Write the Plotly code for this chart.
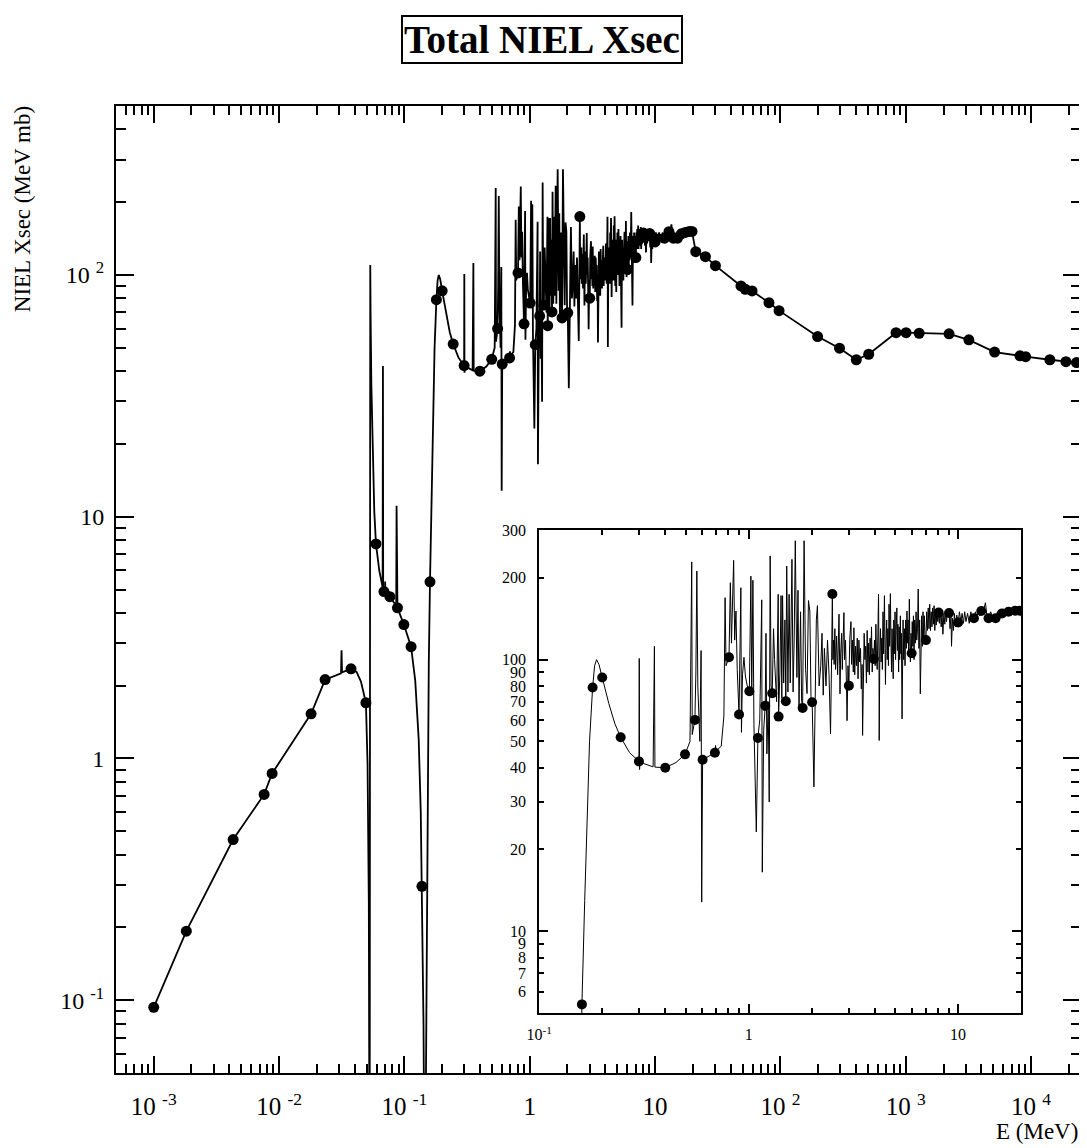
import plotly.graph_objects as go

# ---------------- data ----------------
# low-energy part (markers joined, deep dips below the axis floor)
E_low = [
    1.0e-3, 1.82e-3, 4.3e-3, 7.6e-3, 8.8e-3, 0.018, 0.0233, 0.0312, 0.0315, 0.0318,
    0.0375, 0.0415, 0.0450, 0.0493, 0.0508, 0.0520, 0.0528, 0.0534, 0.0537, 0.0545,
    0.0560, 0.0575, 0.0593, 0.0630, 0.0670, 0.0674, 0.0677, 0.0687, 0.0700, 0.0702,
    0.0705, 0.0766, 0.0860, 0.0866, 0.0870, 0.0880, 0.099, 0.113, 0.122, 0.130,
    0.135, 0.138, 0.142, 0.1455, 0.1490, 0.1525, 0.1565, 0.160, 0.165, 0.169,
    0.174, 0.180, 0.184, 0.188, 0.193, 0.200, 0.215, 0.230, 0.245, 0.270,
]
v_low = [
    0.0935, 0.193, 0.462, 0.71, 0.867, 1.53, 2.12, 2.25, 2.80, 2.27,
    2.35, 2.28, 2.08, 1.70, 0.95, 0.25, 0.01, 110, 70, 35,
    16, 10.5, 7.72, 6.0, 5.1, 42, 5.0, 4.9, 4.85, 5.4,
    4.8, 4.67, 4.28, 11.1, 4.24, 4.2, 3.58, 2.9, 2.1, 1.2,
    0.6, 0.296, 0.08, 0.01, 0.06, 0.6, 2.5, 5.38, 13, 25.6,
    50, 79, 95, 100, 96, 86, 69, 58, 51.8, 45.5,
]

# resonance region 0.3 - 2.5 MeV
E_res = [
    0.2995, 0.3005, 0.3015, 0.303, 0.350, 0.355, 0.357, 0.400, 0.450, 0.497,
    0.525, 0.535, 0.538, 0.554, 0.560, 0.566, 0.572, 0.585, 0.593, 0.597,
    0.603, 0.640, 0.690, 0.695, 0.700, 0.740, 0.762, 0.772, 0.780, 0.806,
    0.818, 0.828, 0.848, 0.858, 0.870, 0.882, 0.900, 0.918, 0.924, 0.935,
    0.950, 0.965, 0.985, 1.008, 1.025, 1.035, 1.048, 1.060, 1.088, 1.107,
    1.130, 1.155, 1.162, 1.180, 1.200, 1.210, 1.222, 1.240, 1.254, 1.267,
    1.280, 1.296, 1.315, 1.330, 1.360, 1.384, 1.390, 1.410, 1.428, 1.440,
    1.452, 1.470, 1.490, 1.505, 1.520, 1.540, 1.560, 1.580, 1.595, 1.610,
    1.630, 1.650, 1.670, 1.700, 1.720, 1.740, 1.770, 1.790, 1.810, 1.840,
    1.870, 1.900, 1.930, 1.960, 1.985, 2.010, 2.050, 2.080, 2.105, 2.130,
    2.170, 2.210, 2.240, 2.270, 2.300, 2.340, 2.380, 2.420, 2.460, 2.490,
    2.510,
]
v_res = [
    42.2, 101, 39.4, 41.9, 40.3, 112, 40.2, 40.0, 41.8, 44.8,
    50, 229, 53, 60, 90, 212, 80, 50, 108, 12.8,
    42.8, 44, 45.4, 48.3, 46.2, 48, 62, 169, 95, 102,
    192, 115, 232, 118, 151, 92, 62.8, 184, 54, 88,
    102, 87, 80, 76.5, 203, 74, 196, 58, 23.2, 51.5,
    60, 166, 16.5, 55, 67.6, 125, 45, 70, 29.9, 241,
    80, 75.2, 130, 100, 70, 174, 61.7, 90, 172, 72,
    172, 82, 140, 70.3, 221, 76, 174, 82, 160, 234,
    76, 120, 274, 86, 180, 66.8, 150, 71, 66.4, 274,
    92, 75, 165, 151, 72, 69.7, 34, 82, 140, 158,
    80, 95, 125, 74, 110, 80, 118, 88, 53.3, 102,
    174.4,
]

# dense unresolved region 2.5 - 20 MeV
E_urr = [
    2.525, 2.54, 2.56, 2.58, 2.60, 2.63, 2.66, 2.70, 2.72, 2.73,
    2.75, 2.78, 2.80, 2.82, 2.85, 2.87, 2.90, 2.93, 2.95, 2.98,
    3.01, 3.04, 3.08, 3.10, 3.13, 3.16, 3.18, 3.21, 3.24, 3.27,
    3.30, 3.33, 3.36, 3.39, 3.42, 3.45, 3.48, 3.50, 3.53, 3.56,
    3.59, 3.62, 3.65, 3.68, 3.71, 3.74, 3.77, 3.80, 3.83, 3.86,
    3.89, 3.92, 3.96, 3.99, 4.02, 4.05, 4.08, 4.11, 4.14, 4.17,
    4.19, 4.20, 4.23, 4.26, 4.29, 4.32, 4.35, 4.38, 4.41, 4.45,
    4.48, 4.50, 4.53, 4.56, 4.59, 4.62, 4.65, 4.68, 4.71, 4.75,
    4.78, 4.81, 4.84, 4.87, 4.90, 4.93, 4.96, 5.00, 5.03, 5.06,
    5.10, 5.13, 5.16, 5.20, 5.23, 5.26, 5.30, 5.33, 5.36, 5.40,
    5.43, 5.46, 5.50, 5.54, 5.58, 5.62, 5.66, 5.70, 5.73, 5.77,
    5.81, 5.85, 5.88, 5.92, 5.96, 6.00, 6.04, 6.08, 6.12, 6.16,
    6.20, 6.25, 6.30, 6.35, 6.40, 6.45, 6.50, 6.55, 6.60, 6.65,
    6.70, 6.75, 6.80, 6.85, 6.90, 6.95, 7.02, 7.08, 7.14, 7.20,
    7.26, 7.32, 7.38, 7.44, 7.50, 7.56, 7.62, 7.68, 7.74, 7.80,
    7.86, 7.92, 8.00, 8.07, 8.14, 8.22, 8.30, 8.38, 8.46, 8.55,
    8.64, 8.72, 8.80, 8.90, 9.05, 9.15, 9.25, 9.30, 9.40, 9.50,
    9.60, 9.72, 9.85, 10.0, 10.15, 10.3, 10.45, 10.6, 10.75, 10.9,
    11.1, 11.3, 11.5, 11.7, 11.9, 12.1, 12.3, 12.5, 12.7, 12.9,
    13.1, 13.3, 13.5, 13.7, 13.97, 14.3, 14.6, 15.1, 15.4, 15.7,
    16.2, 16.6, 17.0, 17.4, 17.8, 18.2, 18.7, 19.2, 19.7,
]
v_urr = [
    100, 118, 96, 130, 92, 122, 88, 147, 95, 74.8,
    105, 125, 92, 110, 149, 100, 118, 82, 59.6, 95,
    80.2, 120, 138, 96, 118, 90, 131, 88, 112, 95,
    120, 85, 118, 98, 110, 78, 96, 52.6, 96, 125,
    100, 112, 82, 128, 90, 115, 88, 120, 98, 132,
    90, 110, 100.6, 118, 95, 135, 100, 92, 125, 174,
    100, 50.4, 105, 130, 98, 120, 92, 150, 105, 172,
    110, 81, 118, 140, 100, 130, 95, 160, 112, 175,
    120, 90, 130, 110, 85, 140, 105, 150, 100, 128,
    155, 108, 135, 90, 132, 100, 145, 105, 125, 60.5,
    110, 140, 100, 130, 95, 140, 110, 151, 115, 140,
    105, 167, 118, 98, 125, 105.5, 138, 112, 145, 100,
    140, 115, 150, 118, 130, 182, 110, 140, 74.8, 125,
    145, 112, 150, 120, 145, 122, 118, 150, 128, 155,
    130, 160, 128, 150, 132, 155, 135, 158, 128, 150,
    134, 152, 138, 149, 136, 152, 132, 150, 124, 148,
    135, 150, 138, 152, 148.5, 130, 145, 112, 142, 128,
    148, 132, 146, 137, 150, 138, 148, 136, 150, 138,
    148, 136, 150, 140, 142, 150, 143, 152, 145, 151,
    146, 154, 162, 147, 142, 150, 144, 142, 150, 145,
    148, 152, 147, 150, 153, 149, 151.4, 153, 151.4,
]

# high-energy tail
E_high = [21.1, 25.2, 30.3, 48.4, 52.5, 59.4, 81.0, 97.5, 198.0, 296.0,
          403.0, 506.0, 836.0, 1005.0, 1279.0, 2213.0, 3187.0, 5115.0, 8150.0, 9040.0,
          14100.0, 18950.0, 23000.0]
v_high = [124.9, 119, 109.3, 90.1, 87.3, 85.9, 76.8, 71.2, 55.6, 49.8,
          44.6, 47.0, 57.7, 57.7, 57.4, 57.1, 53.9, 48.0, 46.3, 45.9,
          44.6, 43.8, 43.4]

# tabulated points drawn as filled circles
E_pts = [
    1.0e-3, 1.82e-3, 4.3e-3, 7.6e-3, 8.8e-3, 0.018, 0.0233, 0.0375, 0.0493, 0.0593,
    0.0687, 0.0766, 0.088, 0.099, 0.113, 0.138, 0.160, 0.180, 0.200, 0.245,
    0.2995, 0.400, 0.497, 0.554, 0.603, 0.690, 0.806, 0.900, 1.008, 1.107,
    1.200, 1.296, 1.390, 1.505, 1.810, 2.010, 2.510, 3.010, 3.960, 6.000,
    7.020, 8.070, 9.050, 10.00, 11.90, 12.90, 13.97, 15.10, 16.20, 17.40,
    18.70, 19.70, 21.1, 25.2, 30.3, 48.4, 52.5, 59.4, 81.0, 97.5,
    198.0, 296.0, 403.0, 506.0, 836.0, 1005.0, 1279.0, 2213.0, 3187.0, 5115.0,
    8150.0, 9040.0, 14100.0, 18950.0, 23000.0,
]
v_pts = [
    0.0935, 0.193, 0.462, 0.71, 0.867, 1.53, 2.12, 2.35, 1.70, 7.72,
    4.9, 4.67, 4.2, 3.58, 2.9, 0.296, 5.38, 79, 86, 51.8,
    42.2, 40.0, 44.8, 60, 42.8, 45.4, 102, 62.8, 76.5, 51.5,
    67.6, 75.2, 61.7, 70.3, 66.4, 69.7, 174.4, 80.2, 100.6, 105.5,
    118, 149, 148.5, 137, 142, 151, 142, 142, 148, 150,
    151.4, 151.4, 124.9, 119, 109.3, 90.1, 87.3, 85.9, 76.8, 71.2,
    55.6, 49.8, 44.6, 47.0, 57.7, 57.7, 57.4, 57.1, 53.9, 48.0,
    46.3, 45.9, 44.6, 43.8, 43.4,
]

main_xtick_vals = [1e-3, 1e-2, 1e-1, 1, 10, 100, 1e3, 1e4]
main_xtick_text = ["10 <sup>-3</sup>", "10 <sup>-2</sup>", "10 <sup>-1</sup>", "1", "10",
                   "10 <sup>2</sup>", "10 <sup>3</sup>", "10 <sup>4</sup>"]
main_ytick_vals = [0.1, 1, 10, 100]
main_ytick_text = ["10 <sup>-1</sup>", "1", "10", "10 <sup>2</sup>"]

inset_xtick_vals = [0.1, 1, 10]
inset_xtick_text = ["10<sup>-1</sup>", "1", "10"]
inset_ytick_vals = [6, 7, 8, 9, 10, 20, 30, 40, 50, 60, 70, 80, 90, 100, 200, 300]
inset_ytick_text = ["6", "7", "8", "9", "10", "20", "30", "40", "50", "60", "70", "80", "90",
                    "100", "200", "300"]

# ---------------- figure ----------------
FONT = "Liberation Serif, Times New Roman, serif"

E_line = E_low + E_res + E_urr + E_high
v_line = v_low + v_res + v_urr + v_high


def minor_vals(lo, hi):
    out = []
    for d in range(lo, hi + 1):
        for m in range(2, 10):
            out.append(m * 10.0 ** d)
    return out


fig = go.Figure()

# main panel
fig.add_trace(go.Scatter(x=E_line, y=v_line, mode="lines",
                         line=dict(color="black", width=1.8),
                         xaxis="x", yaxis="y", showlegend=False, hoverinfo="skip"))
fig.add_trace(go.Scatter(x=E_pts, y=v_pts, mode="markers",
                         marker=dict(color="black", size=11),
                         xaxis="x", yaxis="y", showlegend=False, cliponaxis=False))

# inset panel
fig.add_trace(go.Scatter(x=E_line, y=v_line, mode="lines",
                         line=dict(color="black", width=1),
                         xaxis="x2", yaxis="y2", showlegend=False, hoverinfo="skip"))
fig.add_trace(go.Scatter(x=E_pts, y=v_pts, mode="markers",
                         marker=dict(color="black", size=10),
                         xaxis="x2", yaxis="y2", showlegend=False))
# helper trace for overlay axis (long decade ticks on inset y)
fig.add_trace(go.Scatter(x=[], y=[], xaxis="x2", yaxis="y3", showlegend=False))

# the page adds an 8 px body margin, so the figure is 8 px smaller on each side
fig.update_layout(
    width=1079, height=1140,
    margin=dict(l=108, r=4, t=98, b=75),
    paper_bgcolor="white", plot_bgcolor="white",
    font=dict(family=FONT, color="black"),
    xaxis=dict(
        type="log", domain=[0, 1], anchor="y",
        range=[-3.30103, 4.39794],
        tickmode="array", tickvals=main_xtick_vals, ticktext=main_xtick_text,
        ticks="inside", ticklen=17, tickwidth=1.5, tickcolor="black",
        showline=True, linewidth=2, linecolor="black", mirror="ticks",
        showgrid=False, zeroline=False,
        tickfont=dict(size=25, family=FONT),
        ticklabelstandoff=10,
        minor=dict(tickmode="array", tickvals=minor_vals(-4, 4), ticks="inside",
                   ticklen=9, tickwidth=1.5, tickcolor="black", showgrid=False),
    ),
    yaxis=dict(
        type="log", domain=[0, 1], anchor="x",
        range=[-1.30103, 2.69897],
        tickmode="array", tickvals=main_ytick_vals, ticktext=main_ytick_text,
        ticks="inside", ticklen=18, tickwidth=1.5, tickcolor="black",
        showline=True, linewidth=2, linecolor="black", mirror="ticks",
        showgrid=False, zeroline=False,
        tickfont=dict(size=24, family=FONT),
        ticklabelstandoff=5,
        minor=dict(tickmode="array", tickvals=minor_vals(-2, 2), ticks="inside",
                   ticklen=10, tickwidth=1.5, tickcolor="black", showgrid=False),
    ),
    xaxis2=dict(
        type="log", domain=[0.4385, 0.9380], anchor="y2",
        range=[-1, 1.30103],
        tickmode="array", tickvals=inset_xtick_vals, ticktext=inset_xtick_text,
        ticks="inside", ticklen=9, tickwidth=1.5, tickcolor="black",
        showline=True, linewidth=2, linecolor="black", mirror="ticks",
        showgrid=False, zeroline=False,
        tickfont=dict(size=16, family=FONT),
        ticklabelstandoff=6,
        minor=dict(tickmode="array", tickvals=minor_vals(-1, 1), ticks="inside",
                   ticklen=5, tickwidth=1.5, tickcolor="black", showgrid=False),
    ),
    yaxis2=dict(
        type="log", domain=[0.0620, 0.5615], anchor="x2",
        range=[0.69897, 2.47712],
        tickmode="array", tickvals=inset_ytick_vals, ticktext=inset_ytick_text,
        ticks="inside", ticklen=5, tickwidth=1.5, tickcolor="black",
        showline=True, linewidth=2, linecolor="black", mirror="ticks",
        showgrid=False, zeroline=False,
        tickfont=dict(size=16, family=FONT),
        ticklabelstandoff=8,
    ),
    yaxis3=dict(
        type="log", overlaying="y2", anchor="x2", side="left",
        range=[0.69897, 2.47712],
        tickmode="array", tickvals=[10, 100],
        ticks="inside", ticklen=9, tickwidth=1.5, tickcolor="black",
        showticklabels=False,
        showline=True, linewidth=2, linecolor="black", mirror="ticks",
        showgrid=False, zeroline=False,
    ),
    annotations=[
        dict(text="<b>Total NIEL Xsec</b>", xref="paper", yref="paper",
             x=(543 - 116) / 967, y=(1073 - 40) / 967, xanchor="center", yanchor="middle",
             showarrow=False, font=dict(size=39, family=FONT, color="black"),
             bordercolor="black", borderwidth=2, borderpad=1, bgcolor="white"),
        dict(text="NIEL Xsec (MeV mb)", xref="paper", yref="paper",
             x=(22 - 116) / 967, y=(1073 - 209) / 967, xanchor="center", yanchor="middle",
             textangle=-90, showarrow=False, font=dict(size=23, family=FONT, color="black")),
        dict(text="E (MeV)", xref="paper", yref="paper",
             x=(1082 - 116) / 967, y=(1073 - 1131) / 967, xanchor="right", yanchor="middle",
             showarrow=False, font=dict(size=23, family=FONT, color="black")),
    ],
)

fig.write_html("out.html")
